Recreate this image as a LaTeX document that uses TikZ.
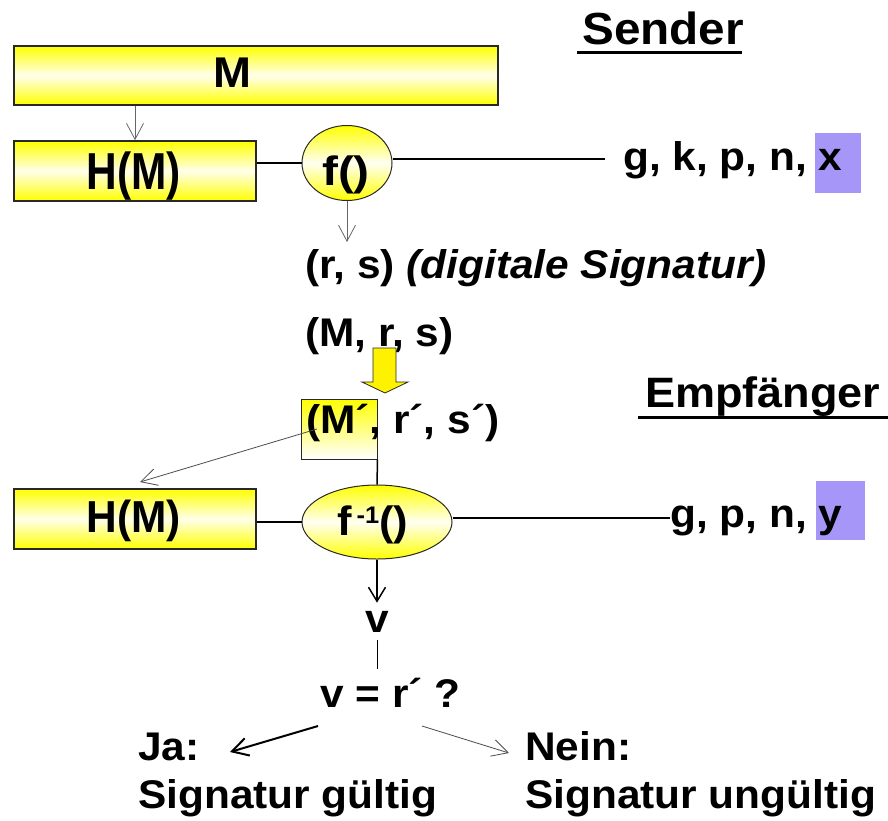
\documentclass[tikz,border=0pt]{standalone}
\usepackage{fontspec}
\setmainfont{Liberation Sans}[FakeStretch=1.06]
\usetikzlibrary{shapes.geometric,arrows.meta}
\definecolor{lila}{RGB}{166,150,248}
\definecolor{bord}{RGB}{40,40,40}
\newcommand\fsz[1]{\fontsize{#1}{#1}\selectfont}
\begin{document}
\begin{tikzpicture}[x=1pt,y=-1pt,
 txt/.style={inner sep=0pt, font=\bfseries\fsz{40}},
 ybox/.style={draw=bord, line width=1.6pt, top color=yellow, bottom color=yellow, middle color=yellow!8, inner sep=0pt},
 yell/.style={ellipse, draw=bord, line width=1pt, top color=yellow, bottom color=yellow, middle color=yellow!5, inner sep=0pt},
 lbox/.style={fill=lila, inner sep=0pt},
 garrow/.style={draw=gray!80!black, line width=0.8pt, -{Straight Barb[length=16pt,width=17pt]}},
 barrow/.style={draw=black, line width=1.5pt, -{Straight Barb[length=14pt,width=17pt]}},
 conn/.style={draw=black, line width=1.5pt},
 uline/.style={draw=black, line width=3pt},
]
\useasboundingbox (0,0) rectangle (888,820);

% headings
\node[txt, font=\bfseries\fsz{45}, anchor=base west] (sender) at (582,44) {Sender};
\draw[uline] (577,52) -- (742,52);
\node[txt, font=\bfseries\fsz{42.5}, anchor=base west] (empf) at (645,407) {Empfänger};
\draw[uline] (638,417) -- (888,417);

% sender part
\node[ybox, minimum width=484pt, minimum height=59pt] (m) at (256,75.5) {};
\node[txt, font=\bfseries\fsz{43}, anchor=base] (mt) at (232,87) {M};
\node[ybox, minimum width=242pt, minimum height=60pt] (hm1) at (135,171) {};
\node[txt, anchor=base] (hm1t) at (134,189) {\scalebox{1}[1.3]{H(M)}};
\node[yell, minimum width=90pt, minimum height=75pt] (f) at (347,163) {};
\node[txt, font=\bfseries\fsz{41}, anchor=base] (ft) at (346,185) {\scalebox{1.1}[1]{f()}};
\draw[garrow] (m.south -| hm1) -- (hm1.north);
\draw[conn] (hm1.east |- f.west) -- (f.west);
\coordinate (kend) at (605,159);
\draw[conn] (f.east |- kend) -- (kend);
\node[lbox, minimum width=46pt, minimum height=60pt] (xb) at (838,163) {};
\node[txt, anchor=base west] (keys1) at (623,170) {g, k, p, n, x};
\coordinate (rstop) at (347,242);
\draw[garrow] (f.south) -- (rstop);
\node[txt, anchor=base west] (rs) at (305,278) {(r, s) \textit{(digitale Signatur)}};
\node[txt, anchor=base west] (mrs) at (305,346) {(M, r, s)};

% transfer arrow
\draw[fill=yellow, draw=bord, line width=0.8pt]
  (373,348) -- (396,348) -- (396,382) -- (408,382) -- (385,393) -- (362,382) -- (373,382) -- cycle;

% receiver part
\node[draw=bord, line width=1pt, top color=yellow, bottom color=white, inner sep=0pt,
      minimum width=76pt, minimum height=60pt] (mpbox) at (339,429) {};
\node[txt, anchor=base west] (mprs) at (306,433) {(M´, r´, s´)};
\node[ybox, minimum width=242pt, minimum height=60pt] (hm2) at (135,519) {};
\node[txt, anchor=base] (hm2t) at (134,532) {\scalebox{1}[1.12]{H(M)}};
\node[yell, minimum width=150pt, minimum height=74pt] (finv) at (377,522) {};
\node[txt, font=\bfseries\fsz{41}, anchor=base west] (finvt) at (337,535)
   {f\hspace{5pt}\raisebox{12pt}{\fsz{24}-1}()};
\draw[conn] (mpbox.south east) -- (finv.north);
\coordinate (mpl) at (317,429);
\coordinate (hm2tip) at (140,482);
\draw[garrow, draw=gray!60!black] (mpl) -- (hm2tip);
\draw[conn] (hm2.east |- finv.west) -- (finv.west);
\node[lbox, minimum width=49pt, minimum height=59pt] (yb) at (840,510) {};
\node[txt, anchor=base west] (keys2) at (670,527) {g, p, n, y};
\draw[conn] ([yshift=4pt]finv.east) -- ([yshift=4pt]keys2.west |- finv.east);

\node[txt, anchor=base] (v) at (377,632) {v};
\draw[barrow] (finv.south) -- ([yshift=8pt]v.north);
\node[txt, anchor=base west] (vq) at (320,707) {v = r´ ?};
\draw[draw=black, line width=1pt] ([yshift=-8pt]v.south) -- ([yshift=8pt]vq.north -| v) ;

\node[txt, anchor=base west] (ja) at (138,760) {Ja:};
\node[txt, anchor=base west] (jas) at (138,808) {Signatur gültig};
\node[txt, anchor=base west] (nein) at (525,760) {Nein:};
\node[txt, anchor=base west] (neins) at (525,808) {Signatur ungültig};
\coordinate (jastart) at (318,726);
\coordinate (jatip) at (230,752);
\coordinate (neinstart) at (422,726);
\coordinate (neintip) at (509,753);
\draw[draw=black, line width=2pt, -{Straight Barb[length=16pt,width=18pt]}] (jastart) -- (jatip);
\draw[garrow, draw=gray!60!black] (neinstart) -- (neintip);
\end{tikzpicture}
\end{document}
